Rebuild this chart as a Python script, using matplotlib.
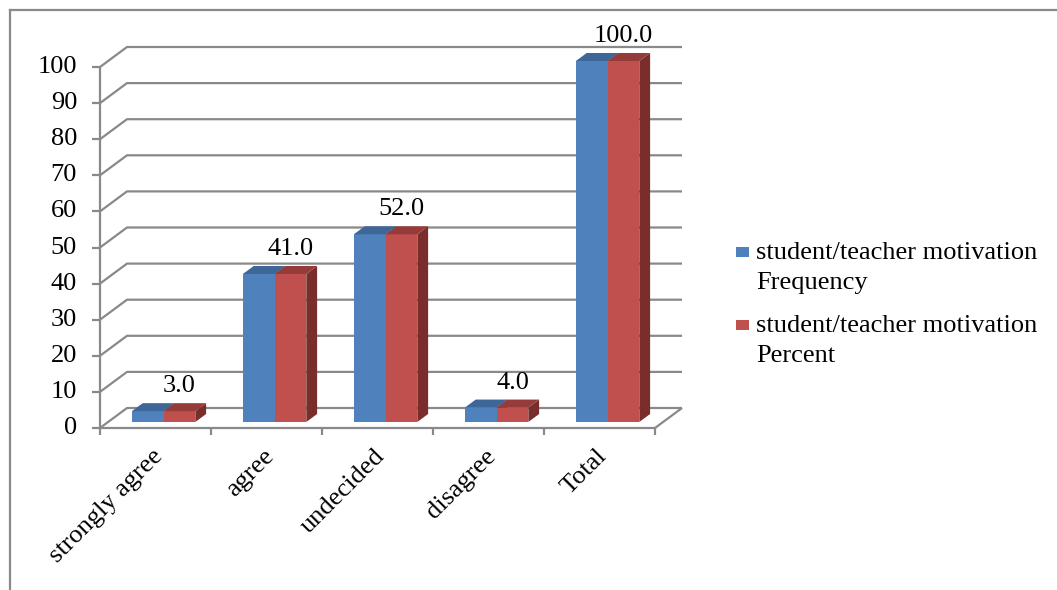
import matplotlib
matplotlib.use("Agg")
import matplotlib.pyplot as plt
import numpy as np
from matplotlib.patches import Polygon, Rectangle
from matplotlib.lines import Line2D
from matplotlib.transforms import IdentityTransform

# ---- data -------------------------------------------------------------
categories = ["strongly agree", "agree", "undecided", "disagree", "Total"]
frequency = [3, 41, 52, 4, 100]
percent = [3.0, 41.0, 52.0, 4.0, 100.0]
series_names = [["student/teacher motivation", "Frequency"],
                ["student/teacher motivation", "Percent"]]
yticks = list(range(0, 101, 10))

# ---- style ------------------------------------------------------------
FONT = "Liberation Serif"
FS = 19
GRID = "#898989"
FACE = [("#4F81BD", "#3E6697", "#3A5F8C"),   # front, top, side
        ("#C0504D", "#953C3A", "#7A2E2C")]

W, H = 1057, 590
fig = plt.figure(figsize=(W / 100, H / 100), dpi=100)
ax = fig.add_axes([100 / W, 162 / H, 555 / W, 361 / H])
ax.set_xlim(0, len(categories))
ax.set_ylim(0, 100)
ax.axis("off")

DEPTH = np.array([27.0, 20.0])   # receding axis, pixels
ID = IdentityTransform()


def P(x, y, z):
    """Project a (category, value, depth) point to display pixels."""
    return ax.transData.transform((x, y)) + z * DEPTH


def line(pts, **kw):
    pts = np.array(pts)
    ax.add_line(Line2D(pts[:, 0], pts[:, 1], transform=ID, clip_on=False,
                       color=GRID, lw=1.6, solid_capstyle="butt", **kw))


n = len(categories)

# back wall gridlines with their receding stubs
for v in yticks:
    line([P(0, v, 0), P(0, v, 1), P(n, v, 1)], zorder=1)
line([P(n, 0, 0), P(n, 0, 1)], zorder=1)

# front axes
line([P(0, 0, 0), P(0, 100, 0)], zorder=2)
line([P(0, 0, 0), P(n, 0, 0)], zorder=2)
for v in yticks:
    p = P(0, v, 0)
    line([p + (-8, 0), p], zorder=2)
    ax.text(p[0] - 23, p[1], f"{v}", transform=ID, ha="right", va="center",
            fontsize=FS, family=FONT)
for i in range(n + 1):
    p = P(i, 0, 0)
    line([p, p + (0, -7)], zorder=2)

# bars
bw = 1 / 3.5
z0, z1 = 0.3, 0.7
series = [frequency, percent]
for c in range(n):
    for s, vals in enumerate(series):
        v = vals[c]
        x0 = c + 0.5 - bw + s * bw
        x1 = x0 + bw
        front_c, top_c, side_c = FACE[s]
        front = [P(x0, 0, z0), P(x1, 0, z0), P(x1, v, z0), P(x0, v, z0)]
        top = [P(x0, v, z0), P(x1, v, z0), P(x1, v, z1), P(x0, v, z1)]
        side = [P(x1, 0, z0), P(x1, 0, z1), P(x1, v, z1), P(x1, v, z0)]
        for poly, col in ((side, side_c), (front, front_c), (top, top_c)):
            ax.add_patch(Polygon(poly, closed=True, transform=ID, clip_on=False,
                                 facecolor=col, edgecolor="none", zorder=3))

# value labels on the percent series
for c in range(n):
    v = percent[c]
    x0 = c + 0.5
    p = P(x0 + bw / 2, v, z0)
    ax.text(p[0], p[1] + 25, f"{v:.1f}", transform=ID, ha="center",
            va="center", fontsize=FS, family=FONT, zorder=5)

# category labels
for c, name in enumerate(categories):
    p = P(c + 0.5, 0, 0)
    ax.text(p[0] - 4, p[1] - 17, name, transform=ID, rotation=45,
            rotation_mode="anchor", ha="right", va="top",
            fontsize=FS, family=FONT)

# legend
for s, lines in enumerate(series_names):
    ytop = H - 246.5 - s * 73
    fig.add_artist(Rectangle((736, ytop - 10), 13, 10, transform=ID,
                             facecolor=FACE[s][0], edgecolor="none"))
    for k, txt in enumerate(lines):
        fig.text(756, H - 259 - s * 73 - k * 30.5, txt, transform=ID,
                 ha="left", va="baseline", fontsize=FS, family=FONT)

# chart-area frame (left and top edges)
fig.add_artist(Line2D([10, 10], [0, H - 10], transform=ID, color=GRID, lw=1.6))
fig.add_artist(Line2D([10, W], [H - 10, H - 10], transform=ID, color=GRID, lw=1.6))

fig.savefig("out.png", dpi=100)
